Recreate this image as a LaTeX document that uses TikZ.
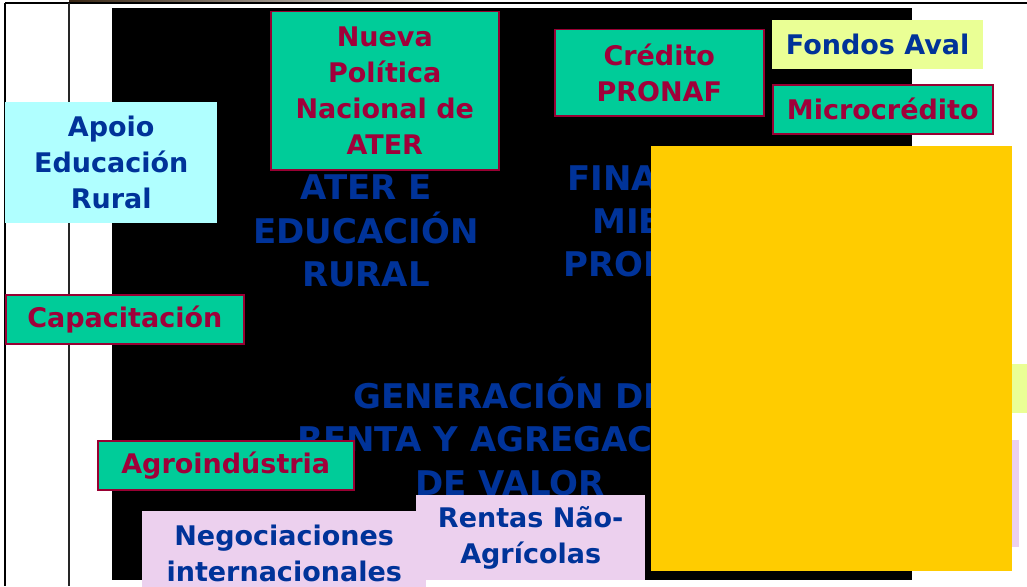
\documentclass[tikz,border=0pt]{standalone}
\usepackage{fontspec}
\setmainfont{DejaVu Sans}
\definecolor{gbox}{HTML}{00CC99}
\definecolor{rborder}{HTML}{990033}
\definecolor{rtext}{HTML}{A0003A}
\definecolor{btext}{HTML}{003399}
\definecolor{cyanbox}{HTML}{B0FFFF}
\definecolor{lyel}{HTML}{EAFF95}
\definecolor{pinkbox}{HTML}{ECD0EE}
\definecolor{gold}{HTML}{FFCC00}
\tikzset{
  boxtxt/.style={font=\fontsize{27}{36}\selectfont\bfseries, align=center, inner sep=0pt},
  greenbox/.style={boxtxt, fill=gbox, draw=rborder, line width=1.5pt, text=rtext},
  bluebox/.style={boxtxt, text=btext},
  bigtxt/.style={font=\fontsize{34}{43.5}\selectfont\bfseries, align=center, text=btext, inner sep=0pt},
}
\begin{document}
\begin{tikzpicture}[x=1pt,y=-1pt]
\useasboundingbox (0,0) rectangle (1027,586);
\fill[white] (0,0) rectangle (1027,586);
% top photo strip
\fill[left color=black!70!brown, right color=white] (69,0) rectangle (480,2);
% frame lines
\draw[line width=1.5pt] (5,3) -- (1027,3);
\draw[line width=1.5pt] (5,3) -- (5,586);
\draw[line width=1.5pt, black!85] (69,3) -- (69,586);
% black panel
\fill[black] (112,8) rectangle (912,580);
% background titles
\node[bigtxt] (ater2) at (366,231) {ATER E\\EDUCACIÓN\\RURAL};
\node[bigtxt, anchor=west] (fin1) at (567,178) {FINA};
\node[bigtxt, anchor=west] (fin2) at (592,221) {MIE};
\node[bigtxt, anchor=west] (fin3) at (563,264) {PROD};
\node[bigtxt] (gen) at (510,436) {GENERACIÓN DE\\RENTA Y AGREGACIÓN\\DE VALOR};
% boxes
\node[greenbox, anchor=north west, minimum width=228pt, minimum height=158pt] (ater) at (270,11) {Nueva\\Política\\Nacional de\\ATER};
\node[greenbox, anchor=north west, minimum width=209pt, minimum height=86pt] (pronaf) at (554,29) {Crédito\\PRONAF};
\node[bluebox, fill=lyel, anchor=north west, minimum width=211pt, minimum height=49pt] (fondos) at (772,20) {Fondos Aval};
\node[greenbox, anchor=north west, minimum width=220pt, minimum height=49pt] (micro) at (772,84) {Microcrédito};
\node[bluebox, fill=cyanbox, anchor=north west, minimum width=212pt, minimum height=121pt] (apoio) at (5,102) {Apoio\\Educación\\Rural};
\node[greenbox, anchor=north west, minimum width=238pt, minimum height=49pt] (capac) at (5,294) {Capacitación};
\node[greenbox, anchor=north west, minimum width=256pt, minimum height=49pt] (agro) at (97,440) {Agroindústria};
\node[bluebox, fill=pinkbox, anchor=north west, minimum width=284pt, minimum height=85pt] (negoc) at (142,511) {Negociaciones\\internacionales};
\node[bluebox, fill=pinkbox, anchor=north west, minimum width=229pt, minimum height=85pt] (rentas) at (416,495) {Rentas Não-\\Agrícolas};
% partly hidden boxes at right
\fill[lyel] (950,364) rectangle (1030,413);
\fill[pinkbox] (950,440) rectangle (1019,547);
% big yellow block
\fill[gold] (651,146) rectangle (1012,571);
\end{tikzpicture}
\end{document}
